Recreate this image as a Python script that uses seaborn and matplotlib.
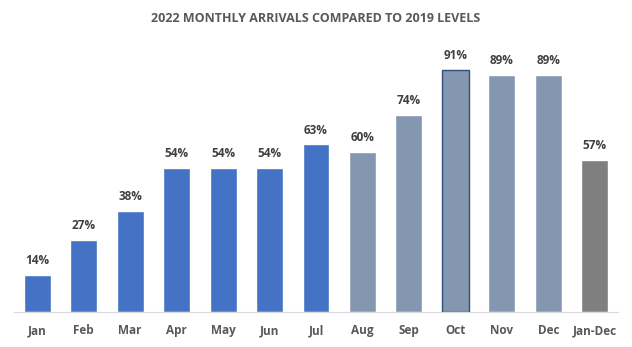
import matplotlib
matplotlib.use("Agg")
import matplotlib.pyplot as plt
import seaborn as sns
import pandas as pd

months = ["Jan", "Feb", "Mar", "Apr", "May", "Jun", "Jul", "Aug", "Sep", "Oct", "Nov", "Dec", "Jan-Dec"]
values = [14, 27, 38, 54, 54, 54, 63, 60, 74, 91, 89, 89, 57]
groups = ["a"] * 7 + ["b"] * 5 + ["c"]
palette = {"a": "#4472C4", "b": "#8497B0", "c": "#7F7F7F"}

sns.set_theme(style="white")
plt.rcParams["font.family"] = ["Open Sans", "DejaVu Sans"]

df = pd.DataFrame({"month": months, "value": values, "group": groups})

fig = plt.figure(figsize=(6.32, 3.47), dpi=100)
ax = fig.add_axes([0.022, 0.101, 0.956, 0.766])
sns.barplot(data=df, x="month", y="value", hue="group", palette=palette,
            dodge=False, width=0.58, legend=False, ax=ax, saturation=1)

# outline on Oct bar
for p in ax.patches:
    x = p.get_x() + p.get_width() / 2
    if abs(x - months.index("Oct")) < 0.01 and p.get_height() > 0:
        p.set_edgecolor("#2F4F7F")
        p.set_linewidth(1.0)

for i, v in enumerate(values):
    ax.text(i, v + 3, f"{v}%", ha="center", va="bottom", fontsize=8.5,
            fontweight="bold", color="#404040")

ax.set_ylim(0, 100)
ax.set_xlim(-0.5, len(months) - 0.5)
ax.set_yticks([])
ax.set_xlabel("")
ax.set_ylabel("")
for s in ["top", "right", "left"]:
    ax.spines[s].set_visible(False)
ax.spines["bottom"].set_color("#D9D9D9")
ax.spines["bottom"].set_linewidth(0.8)
ax.tick_params(axis="x", length=0, pad=9, labelsize=8.5, labelcolor="#595959")
for lbl in ax.get_xticklabels():
    lbl.set_fontweight("bold")

fig.text(0.5, 0.948, "2022 MONTHLY ARRIVALS COMPARED TO 2019 LEVELS", ha="center", va="center",
         fontsize=9, fontweight="bold", color="#595959")

fig.savefig("out.png", dpi=100, facecolor="white")
